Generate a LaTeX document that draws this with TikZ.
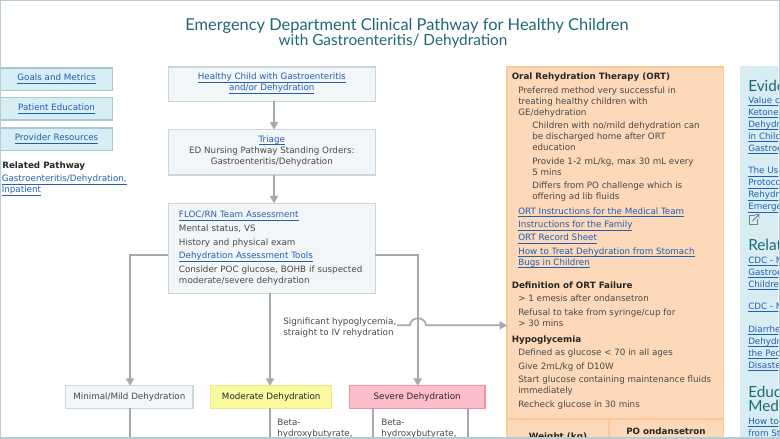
\documentclass[tikz,border=0pt]{standalone}
\usepackage{fontspec}
\setmainfont{DejaVu Sans}
\newfontfamily\titlefont{Lato}
\usepackage{xcolor}
\usepackage{tikz}
\usetikzlibrary{calc,positioning,arrows.meta}
\definecolor{framegray}{RGB}{184,204,211}
\definecolor{flowgray}{RGB}{168,168,168}
\definecolor{textgray}{RGB}{72,72,72}
\definecolor{headteal}{RGB}{31,104,115}
\definecolor{linkblue}{RGB}{31,95,181}
\definecolor{boxfill}{RGB}{243,246,248}
\definecolor{boxline}{RGB}{200,215,222}
\definecolor{navfill}{RGB}{216,238,245}
\definecolor{navline}{RGB}{170,198,208}
\definecolor{modfill}{RGB}{251,249,160}
\definecolor{modline}{RGB}{240,232,138}
\definecolor{sevfill}{RGB}{253,189,201}
\definecolor{sevline}{RGB}{249,143,156}
\definecolor{ortfill}{RGB}{253,217,185}
\definecolor{ortline}{RGB}{252,200,152}
\definecolor{sidefill}{RGB}{216,237,243}
\newcommand{\lnk}[1]{\textcolor{linkblue}{\underline{\raisebox{0pt}[\height][0.3pt]{#1}}}}
\newcommand{\lowpad}{\rule[-3.5pt]{0pt}{0pt}}
\tikzset{
  boxsize/.style 2 args={minimum width=#1*0.75pt,minimum height=#2*0.75pt},
  body/.style={font=\fontsize{6.56}{8.25}\selectfont,text=textgray,align=left,inner sep=0pt,anchor=west},
  bodyhead/.style={body,font=\fontsize{6.56}{8.25}\selectfont\bfseries,text=black!85},
  sidelink/.style={body,font=\fontsize{6.56}{9}\selectfont},
  sidehead/.style={body,font=\titlefont\fontsize{11.5}{10.5}\selectfont,text=headteal},
  titleline/.style={anchor=base,inner sep=0pt,text=headteal},
  pathbox/.style={draw=boxline,fill=boxfill,line width=1.1pt,inner sep=0pt,outer sep=0pt,align=center,text=textgray,font=\fontsize{6.56}{8.25}\selectfont},
  navbox/.style={pathbox,draw=navline,fill=navfill,boxsize={112}{22.5}},
  modbox/.style={pathbox,draw=modline,fill=modfill,text=black!85},
  sevbox/.style={pathbox,draw=sevline,fill=sevfill,text=black!85},
  flow/.style={draw=flowgray,line width=1.5pt},
}

\begin{document}
\begin{tikzpicture}[x=0.75pt,y=-0.75pt,>={Triangle[length=5.5pt,width=6pt]}]
  \begin{scope}
    \clip (1,1) rectangle (778.5,437.5);

    \node[pathbox,draw=ortline,fill=ortfill,boxsize={216.5}{400},anchor=north west] (ortpanel) at (507,67) {};
    \node[draw=none,fill=sidefill,boxsize={60}{400},anchor=north west,inner sep=0pt] (sidepanel) at (740,66) {};

    \node[titleline,font=\titlefont\fontsize{12.3}{10.9}\selectfont] (titlea) at (407,30.7)
      {Emergency Department Clinical Pathway for Healthy Children};
    \node[titleline,font=\titlefont\fontsize{11.5}{10.9}\selectfont] (titleb) at (393,45)
      {with Gastroenteritis/ Dehydration};

    \node[navbox] (goals) at (56.5,79) {\lnk{Goals and Metrics}};
    \node[navbox] (education) at (56.5,108.7) {\lnk{Patient Education}};
    \node[navbox] (resources) at (56.5,139) {\lnk{Provider Resources}};
    \node[bodyhead] (relatedhead) at (2,166.5) {Related Pathway};
    \node[body] (relatedlink) at (1.5,185.5) {\lnk{Gastroenteritis/Dehydration,}\\\lnk{Inpatient}};

    \node[pathbox,boxsize={207}{34.5}] (healthy) at (271.8,84)
      {\lnk{Healthy Child with Gastroenteritis}\\\lnk{and/or Dehydration}\lowpad};
    \node[pathbox,boxsize={207}{45.5}] (triage) at (271.8,152.2)
      {\lnk{Triage}\\ED Nursing Pathway Standing Orders:\\Gastroenteritis/Dehydration\lowpad};
    \node[pathbox,boxsize={207}{90},align=left,text width=139.25pt] (team) at (271.8,248.3)
      {\lnk{FLOC/RN Team Assessment}\\[2pt]
       Mental status, VS\\[2pt]
       History and physical exam\\[2pt]
       \lnk{Dehydration Assessment Tools}\\[2pt]
       Consider POC glucose, BOHB if suspected\\
       moderate/severe dehydration};

    \node[pathbox,boxsize={127.5}{22.5}] (minimal) at (129.3,397) {Minimal/Mild Dehydration};
    \node[modbox,boxsize={121}{22.5}] (moderate) at (271.2,397) {Moderate Dehydration};
    \node[sevbox,boxsize={135.5}{22.5}] (severe) at (417.2,397) {Severe Dehydration};

    \node[body] (hypotext) at (283,327.3) {Significant hypoglycemia,\\straight to IV rehydration};
    \node[body] (modbeta) at (277,428.5) {Beta-\\hydroxybutyrate,};
    \node[body] (sevbeta) at (381,428.5) {Beta-\\hydroxybutyrate,};

    \coordinate (mainaxis) at (274,150);
    \coordinate (teamleft) at (130,255);
    \coordinate (teamright) at (417.7,255);
    \coordinate (hypostart) at (397,325.3);
    \coordinate (humpa) at (410,325.3);
    \coordinate (humpb) at (426,325.3);
    \coordinate (minimalend) at (130,440);
    \coordinate (moderateend) at (270,440);
    \coordinate (severeenda) at (372.7,440);
    \coordinate (severeendb) at (467.7,440);

    \draw[flow,->] (healthy.south -| mainaxis) -- (triage.north -| mainaxis);
    \draw[flow,->] (triage.south -| mainaxis) -- (team.north -| mainaxis);
    \draw[flow,->] (team.west |- teamleft) -- (teamleft) -- (teamleft |- minimal.north);
    \draw[flow,->] (team.south -| moderateend) -- (moderate.north -| moderateend);
    \draw[flow,->] (team.east |- teamright) -- (teamright) -- (teamright |- severe.north);
    \draw[flow,->,line width=1.3pt] (hypostart) -- (humpa) arc[start angle=180,end angle=360,x radius=8,y radius=7] -- (ortpanel.west |- humpb);
    \draw[flow] (minimal.south -| minimalend) -- (minimalend);
    \draw[flow] (moderate.south -| moderateend) -- (moderateend);
    \draw[flow] (severe.south -| severeenda) -- (severeenda);
    \draw[flow] (severe.south -| severeendb) -- (severeendb);

    \node[bodyhead] (orthead) at (511.5,77) {Oral Rehydration Therapy (ORT)};
    \node[body] (ortmethod) at (518,101.6) {Preferred method very successful in\\treating healthy children with\\GE/dehydration};
    \node[body] (ortchildren) at (532,136.3) {Children with no/mild dehydration can\\be discharged home after ORT\\education};
    \node[body] (ortprovide) at (532,166.6) {Provide 1-2 mL/kg, max 30 mL every\\5 mins};
    \node[body] (ortdiffers) at (532,191.4) {Differs from PO challenge which is\\offering ad lib fluids};
    \node[body] (ortteam) at (518,212.3) {\lnk{ORT Instructions for the Medical Team}};
    \node[body] (ortfamily) at (518,225.7) {\lnk{Instructions for the Family}};
    \node[body] (ortsheet) at (518,239) {\lnk{ORT Record Sheet}};
    \node[body] (ortbugs) at (518,258.2) {\lnk{How to Treat Dehydration from Stomach}\\\lnk{Bugs in Children}};
    \node[bodyhead] (failhead) at (511.5,285) {Definition of ORT Failure};
    \node[body] (failemesis) at (518,298.7) {> 1 emesis after ondansetron};
    \node[body] (failrefusal) at (518,317.5) {Refusal to take from syringe/cup for\\> 30 mins};
    \node[bodyhead] (hypohead) at (511.5,340) {Hypoglycemia};
    \node[body] (hypodefined) at (518,353.3) {Defined as glucose < 70 in all ages};
    \node[body] (hypogive) at (518,366.7) {Give 2mL/kg of D10W};
    \node[body] (hypostartfluid) at (518,385.5) {Start glucose containing maintenance fluids\\immediately};
    \node[body] (hyporecheck) at (518,404.7) {Recheck glucose in 30 mins};

    \coordinate (tabletop) at (609,419);
    \draw[draw=ortline,line width=1.1pt] (ortpanel.west |- tabletop) -- (ortpanel.east |- tabletop);
    \draw[draw=ortline,line width=1.1pt] (tabletop) -- (tabletop |- ortpanel.south);
    \node[bodyhead,anchor=center] (weighthead) at (558,436.7) {Weight (kg)};
    \node[bodyhead,anchor=center] (ondanhead) at (666,431) {PO ondansetron};

    \node[sidehead] (evidencehead) at (748,86) {Evidence};
    \node[sidelink] (evidencea) at (748,125.6) {\lnk{Value of}\\\lnk{Ketones}\\\lnk{Dehydration}\\\lnk{in Children}\\\lnk{Gastroenteritis}};
    \node[sidelink] (evidenceb) at (748,189.7) {\lnk{The Use}\\\lnk{Protocol}\\\lnk{Rehydration}\\\lnk{Emergency}};
    \node[sidehead] (relatedside) at (748,245) {Related};
    \node[sidelink] (relateda) at (748,273.7) {\lnk{CDC - Managing}\\\lnk{Gastroenteritis}\\\lnk{Children}};
    \node[sidelink] (relatedb) at (748,307.7) {\lnk{CDC - Managing}};
    \node[sidelink] (relatedc) at (748,348.3) {\lnk{Diarrhea}\\\lnk{Dehydration}\\\lnk{the Pediatric}\\\lnk{Disaster}};
    \node[sidehead] (educationhead) at (748,398.5) {Education\\Media};
    \node[sidelink] (educationlink) at (748,428.4) {\lnk{How to}\\\lnk{from Stomach}};

    \draw[textgray!70,line width=0.6pt] (755,215.5) -- (749,215.5) -- (749,224) -- (757.5,224) -- (757.5,219);
    \draw[textgray!70,line width=0.7pt] (752.5,221) -- (759,214.5) (755.5,214.5) -- (759,214.5) -- (759,218);
  \end{scope}
  \draw[framegray,line width=1.1pt] (0.7,0.7) rectangle (779.3,438);
  \useasboundingbox (0,0) rectangle (780,439);
\end{tikzpicture}
\end{document}
